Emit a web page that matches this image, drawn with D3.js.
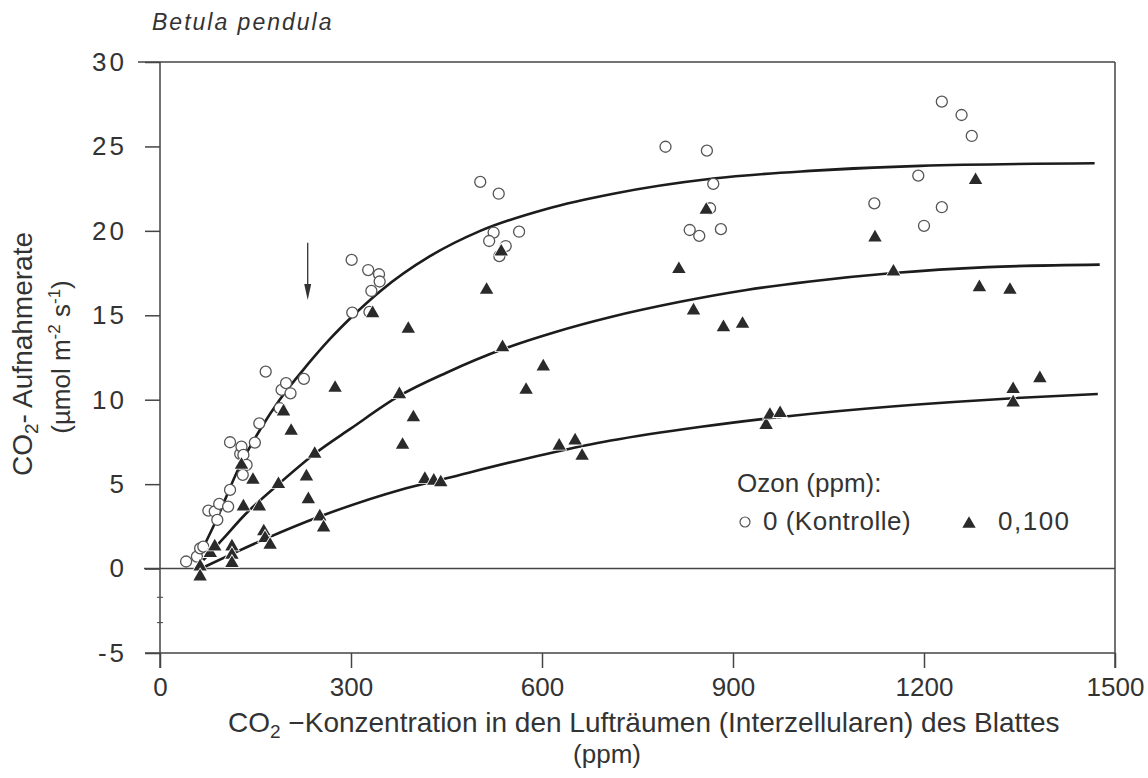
<!DOCTYPE html>
<html>
<head>
<meta charset="utf-8">
<script src="https://cdn.jsdelivr.net/npm/d3@7"></script>
<style>
  body { margin: 0; background: #fff; }
  text { font-family: "Liberation Sans", Arial, Helvetica, sans-serif; fill: #333; }
</style>
</head>
<body>
<script>
// Achsen
const xTicks = [0, 300, 600, 900, 1200, 1500];
const yTicks = [-5, 0, 5, 10, 15, 20, 25, 30];
const kleineMarken = [-1.7, -3.2];

// Messpunkte: [CO2 ppm, Aufnahmerate]
const kontrolle = [
  [41, 0.42], [58, 0.71], [63, 1.2], [68, 1.3], [76, 3.43], [86, 3.38], [90, 2.88],
  [93, 3.83], [107, 3.67], [110, 4.66], [110, 7.48], [126, 6.79], [128, 7.22],
  [131, 6.73], [136, 6.14], [130, 5.55], [149, 7.46], [156, 8.6], [166, 11.66],
  [188, 9.5], [191, 10.58], [198, 10.98], [205, 10.38], [226, 11.23], [302, 15.16],
  [301, 18.28], [327, 17.68], [344, 17.43], [345, 17.0], [332, 16.44], [329, 15.2],
  [503, 22.9], [532, 22.2], [524, 19.9], [517, 19.4], [543, 19.1], [533, 18.5],
  [564, 19.95], [794, 24.98], [859, 24.75], [869, 22.78], [864, 21.34], [832, 20.05],
  [847, 19.7], [881, 20.1], [1228, 27.65], [1259, 26.86], [1275, 25.62], [1191, 23.27],
  [1122, 21.63], [1228, 21.4], [1200, 20.3]
];
const ozon = [
  [63, 0.12], [63, -0.47], [79, 0.91], [86, 1.3], [113, 1.3], [113, 0.81], [113, 0.32],
  [131, 3.67], [128, 6.14], [146, 5.25], [156, 3.67], [163, 2.2], [165, 1.8], [173, 1.4],
  [194, 9.3], [206, 8.15], [186, 5.0], [230, 5.45], [233, 4.1], [243, 6.79], [251, 3.08],
  [257, 2.43], [275, 10.7], [334, 15.12], [390, 14.19], [376, 10.32], [398, 8.95],
  [381, 7.32], [513, 16.5], [536, 18.77], [538, 13.1], [602, 11.96], [575, 10.58],
  [627, 7.27], [652, 7.58], [663, 6.67], [416, 5.3], [430, 5.2], [441, 5.1],
  [815, 17.73], [858, 21.24], [838, 15.28], [885, 14.29], [915, 14.49], [952, 8.5],
  [958, 9.1], [974, 9.2], [1281, 23.0], [1123, 19.6], [1152, 17.58], [1287, 16.66],
  [1335, 16.5], [1382, 11.27], [1340, 10.62], [1340, 9.83]
];

// Ausgleichskurven
const kurveKontrolle = [
  [58, 0.5], [90, 3.0], [123, 5.9], [160, 8.4], [188, 10.0], [230, 12.0], [267, 13.6],
  [301, 14.9], [345, 16.4], [424, 18.5], [503, 20.0], [607, 21.3], [712, 22.2],
  [869, 23.1], [1021, 23.55], [1194, 23.85], [1468, 24.0]
];
const kurveOzonA = [
  [68, 0.5], [100, 1.8], [131, 3.1], [188, 5.06], [243, 6.8], [300, 8.3], [377, 10.25],
  [450, 11.6], [539, 13.0], [620, 14.0], [708, 14.9], [817, 15.8], [921, 16.5],
  [1021, 17.0], [1152, 17.5], [1300, 17.85], [1476, 18.0]
];
const kurveOzonB = [
  [70, 0.1], [115, 0.9], [168, 1.8], [251, 3.08], [377, 4.66], [450, 5.35], [607, 6.79],
  [708, 7.58], [850, 8.4], [990, 9.04], [1340, 10.09], [1473, 10.34]
];

// Pfeil: [x, von, bis]
const pfeil = [232, 19.3, 15.9];

window.onload = function () {
  const svg = d3.select("body").append("svg")
    .attr("width", 1148).attr("height", 778);

  const x = d3.scaleLinear().domain([0, 1500]).range([160, 1115]);
  const y = d3.scaleLinear().domain([-5, 30]).range([653, 62]);

  const lineCol = "#444";
  const fmt = (d) => String(d);

  // Y-Achse
  const yAxis = svg.append("g")
    .attr("transform", `translate(${x(0)},0)`)
    .call(d3.axisLeft(y).tickValues(yTicks).tickFormat(fmt).tickSize(15).tickPadding(18))
    .attr("font-family", null).attr("font-size", null);
  yAxis.select(".domain").remove();
  yAxis.selectAll("line").attr("stroke", lineCol).attr("stroke-width", 1.5);
  yAxis.selectAll("text").attr("font-size", 26).attr("letter-spacing", "3px").attr("fill", "#333");

  // X-Achse
  const xAxis = svg.append("g")
    .attr("transform", `translate(0,${y(-5)})`)
    .call(d3.axisBottom(x).tickValues(xTicks).tickFormat(fmt).tickSize(15).tickPadding(10))
    .attr("font-family", null).attr("font-size", null);
  xAxis.select(".domain").remove();
  xAxis.selectAll("line").attr("stroke", lineCol).attr("stroke-width", 1.5);
  xAxis.selectAll("text").attr("font-size", 26).attr("fill", "#333");

  // Rahmen
  const frame = svg.append("g").attr("stroke", lineCol).attr("stroke-width", 1.5);
  frame.append("line").attr("x1", x(0) - 22).attr("x2", x(1500)).attr("y1", y(30)).attr("y2", y(30));
  frame.append("line").attr("x1", x(0) - 15).attr("x2", x(1500)).attr("y1", y(-5)).attr("y2", y(-5));
  frame.append("line").attr("x1", x(0) - 16).attr("x2", x(1500)).attr("y1", y(0)).attr("y2", y(0));
  frame.append("line").attr("x1", x(0)).attr("x2", x(0)).attr("y1", y(30)).attr("y2", y(-5) + 15);
  frame.append("line").attr("x1", x(1500)).attr("x2", x(1500)).attr("y1", y(30)).attr("y2", y(-5) + 15);
  frame.selectAll(".klein")
    .data(kleineMarken)
    .enter()
    .append("line")
    .attr("x1", x(0) - 3).attr("x2", x(0) + 3)
    .attr("y1", (d) => y(d)).attr("y2", (d) => y(d))
    .attr("stroke-width", 1);

  // Kurven
  const line = d3.line()
    .x((d) => x(d[0]))
    .y((d) => y(d[1]))
    .curve(d3.curveMonotoneX);

  svg.selectAll(".kurve")
    .data([kurveKontrolle, kurveOzonA, kurveOzonB])
    .enter()
    .append("path")
    .attr("class", "kurve")
    .attr("d", line)
    .attr("fill", "none")
    .attr("stroke", "#1c1c1c")
    .attr("stroke-width", 2.6);

  // Pfeil
  svg.append("line")
    .attr("x1", x(pfeil[0])).attr("x2", x(pfeil[0]))
    .attr("y1", y(pfeil[1])).attr("y2", y(pfeil[2]) - 10)
    .attr("stroke", "#333").attr("stroke-width", 1.3);
  svg.append("path")
    .attr("d", `M${x(pfeil[0]) - 3.5},${y(pfeil[2]) - 16} L${x(pfeil[0]) + 3.5},${y(pfeil[2]) - 16} L${x(pfeil[0])},${y(pfeil[2])} Z`)
    .attr("fill", "#333");

  // Punkte
  svg.selectAll(".kreis")
    .data(kontrolle)
    .enter()
    .append("circle")
    .attr("class", "kreis")
    .attr("cx", (d) => x(d[0]))
    .attr("cy", (d) => y(d[1]))
    .attr("r", 5.5)
    .attr("fill", "#fff")
    .attr("stroke", "#555")
    .attr("stroke-width", 1.3);

  const tri = d3.symbol().type(d3.symbolTriangle).size(78);
  svg.selectAll(".dreieck")
    .data(ozon)
    .enter()
    .append("path")
    .attr("class", "dreieck")
    .attr("d", tri)
    .attr("transform", (d) => `translate(${x(d[0])},${y(d[1])})`)
    .attr("fill", "#2a2a2a")
    .attr("stroke", "#fff")
    .attr("stroke-width", 1.6)
    .attr("paint-order", "stroke");

  // Titel
  svg.append("text")
    .attr("x", 152).attr("y", 30)
    .attr("font-size", 23)
    .attr("font-style", "italic")
    .attr("letter-spacing", "2px")
    .attr("fill", "#444")
    .text("Betula pendula");

  // X-Achsentitel
  const xt = svg.append("text")
    .attr("x", 228).attr("y", 732)
    .attr("font-size", 28);
  xt.append("tspan").text("CO");
  xt.append("tspan").attr("font-size", 19).attr("dy", 6).text("2");
  xt.append("tspan").attr("dy", -6).text(" \u2212Konzentration in den Lufträumen (Interzellularen) des Blattes");

  svg.append("text")
    .attr("x", 607).attr("y", 763)
    .attr("text-anchor", "middle")
    .attr("font-size", 26)
    .text("(ppm)");

  // Y-Achsentitel
  const yt1 = svg.append("text")
    .attr("transform", "translate(32,354) rotate(-90)")
    .attr("text-anchor", "middle")
    .attr("font-size", 28);
  yt1.append("tspan").text("CO");
  yt1.append("tspan").attr("font-size", 19).attr("dy", 6).text("2");
  yt1.append("tspan").attr("dy", -6).text("- Aufnahmerate");

  const yt2 = svg.append("text")
    .attr("transform", "translate(70,357) rotate(-90)")
    .attr("text-anchor", "middle")
    .attr("font-size", 26);
  yt2.append("tspan").text("(µmol m");
  yt2.append("tspan").attr("font-size", 17).attr("dy", -10).text("-2");
  yt2.append("tspan").attr("dy", 10).text(" s");
  yt2.append("tspan").attr("font-size", 17).attr("dy", -10).text("-1");
  yt2.append("tspan").attr("dy", 10).text(")");

  // Legende
  const leg = svg.append("g");
  leg.append("text").attr("x", 737).attr("y", 492).attr("font-size", 26).text("Ozon (ppm):");
  leg.append("circle").attr("cx", 745).attr("cy", 522).attr("r", 5)
    .attr("fill", "#fff").attr("stroke", "#555").attr("stroke-width", 1.2);
  leg.append("text").attr("x", 763).attr("y", 530).attr("font-size", 26)
    .attr("letter-spacing", "0.5px").text("0 (Kontrolle)");
  leg.append("path").attr("d", tri).attr("transform", "translate(969,524)").attr("fill", "#2a2a2a");
  leg.append("text").attr("x", 998).attr("y", 530).attr("font-size", 26)
    .attr("letter-spacing", "1.5px").text("0,100");
};
</script>
</body>
</html>
